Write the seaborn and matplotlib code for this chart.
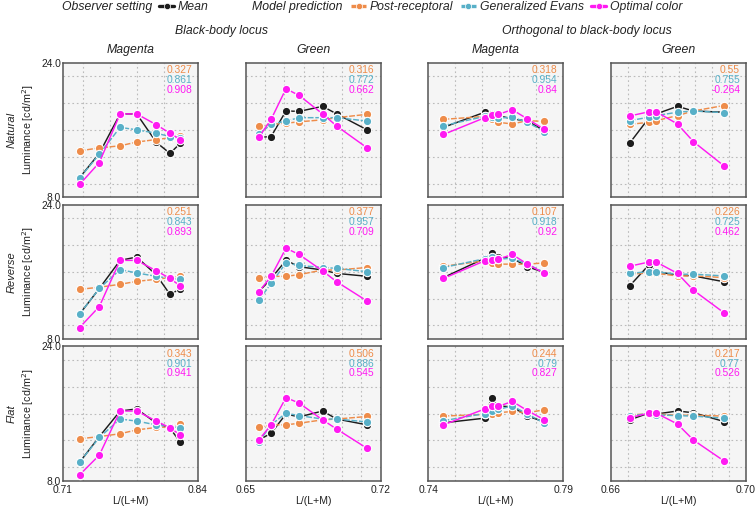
import matplotlib
matplotlib.use("Agg")
import matplotlib.pyplot as plt
import seaborn as sns
import pandas as pd
from matplotlib.lines import Line2D

# ---------------- data ----------------
SERIES = ["Mean", "Post-receptoral", "Generalized Evans", "Optimal color"]
SETTINGS = ["Natural", "Reverse", "Flat"]
PANELS = ["bb_mag", "bb_green", "orth_mag", "orth_green"]
PANEL_TITLES = ["Magenta", "Green", "Magenta", "Green"]
GROUP_TITLES = ["Black-body locus", "Orthogonal to black-body locus"]

X_BB_MAG = [0.726, 0.745, 0.765, 0.781, 0.800, 0.813, 0.823]
X_BB_GREEN = [0.6568, 0.6632, 0.6709, 0.6777, 0.6899, 0.6972, 0.7130]
X_ORTH_MAG = [0.7456, 0.7609, 0.7634, 0.7659, 0.7711, 0.7767, 0.7830]
X_ORTH_GREEN = [0.6655, 0.6712, 0.6734, 0.6797, 0.6844, 0.6935]

XLIMS = [(0.71, 0.84), (0.65, 0.72), (0.74, 0.79), (0.66, 0.70)]
XTICKLABELS = [("0.71", "0.84"), ("0.65", "0.72"), ("0.74", "0.79"), ("0.66", "0.70")]
YLIM = (8.0, 24.0)

# Natural
NAT_BBM_MEAN = [10.3, 13.2, 17.9, 17.9, 14.5, 13.2, 14.4]
NAT_BBM_POST = [13.5, 13.85, 14.1, 14.55, 14.85, 15.05, 15.3]
NAT_BBM_EVANS = [10.25, 13.1, 16.3, 16.0, 15.6, 15.2, 15.0]
NAT_BBM_OPT = [9.5, 12.1, 17.9, 17.9, 16.6, 15.6, 14.85]

NAT_BBG_MEAN = [15.1, 15.2, 18.25, 18.2, 18.8, 17.9, 16.0]
NAT_BBG_POST = [16.4, 16.65, 16.8, 16.95, 17.2, 17.45, 17.85]
NAT_BBG_EVANS = [15.5, 16.65, 17.05, 17.45, 17.45, 17.45, 17.05]
NAT_BBG_OPT = [15.1, 17.25, 20.9, 20.1, 17.9, 16.45, 13.85]

NAT_OM_MEAN = [16.3, 18.1, 17.9, 17.7, 17.3, 17.05, 15.9]
NAT_OM_POST = [17.25, 17.6, 17.3, 16.9, 16.7, 17.1, 17.0]
NAT_OM_EVANS = [16.5, 17.6, 17.5, 17.4, 17.5, 16.9, 15.8]
NAT_OM_OPT = [15.45, 17.45, 17.8, 17.85, 18.4, 17.3, 16.05]

NAT_OG_MEAN = [14.4, 17.4, 17.9, 18.8, 18.25, 18.1]
NAT_OG_POST = [16.65, 16.9, 17.1, 17.7, 18.25, 18.9]
NAT_OG_EVANS = [17.1, 17.5, 17.7, 18.1, 18.25, 18.05]
NAT_OG_OPT = [17.65, 18.15, 18.15, 16.7, 14.6, 11.7]

# Reverse
REV_BBM_MEAN = [10.95, 14.0, 17.35, 17.75, 15.6, 13.3, 13.95]
REV_BBM_POST = [13.9, 14.15, 14.5, 14.85, 15.1, 15.3, 15.5]
REV_BBM_EVANS = [10.95, 14.0, 16.25, 15.85, 15.45, 15.2, 15.1]
REV_BBM_OPT = [9.35, 11.85, 17.35, 17.35, 16.1, 15.2, 14.3]

REV_BBG_MEAN = [13.6, 15.2, 17.35, 16.6, 16.2, 15.8, 15.45]
REV_BBG_POST = [15.2, 15.45, 15.45, 15.65, 16.2, 16.2, 16.5]
REV_BBG_EVANS = [12.6, 14.6, 17.05, 16.75, 16.5, 16.4, 16.0]
REV_BBG_OPT = [13.6, 15.45, 18.8, 18.05, 16.1, 14.8, 12.5]

REV_OM_MEAN = [15.3, 17.6, 18.2, 17.7, 17.6, 16.6, 15.9]
REV_OM_POST = [16.65, 17.3, 17.0, 16.9, 16.9, 16.9, 17.05]
REV_OM_EVANS = [16.5, 17.55, 17.7, 17.5, 17.6, 16.9, 15.9]
REV_OM_OPT = [15.2, 17.3, 17.4, 17.5, 18.05, 16.9, 15.8]

REV_OG_MEAN = [14.3, 16.8, 16.0, 15.6, 15.5, 14.8]
REV_OG_POST = [15.7, 15.85, 15.8, 15.5, 15.5, 15.3]
REV_OG_EVANS = [15.8, 16.0, 16.0, 15.7, 15.7, 15.5]
REV_OG_OPT = [16.65, 17.15, 17.15, 15.8, 13.8, 11.1]

# Flat
FLAT_BBM_MEAN = [10.2, 13.25, 16.3, 16.55, 14.85, 14.25, 12.6]
FLAT_BBM_POST = [13.0, 13.25, 13.6, 14.05, 14.35, 14.4, 14.75]
FLAT_BBM_EVANS = [10.2, 13.15, 15.35, 15.1, 14.65, 14.45, 14.3]
FLAT_BBM_OPT = [8.7, 11.05, 16.3, 16.3, 15.1, 14.3, 13.45]

FLAT_BBG_MEAN = [12.85, 13.65, 15.95, 15.6, 16.3, 15.35, 14.65]
FLAT_BBG_POST = [14.35, 14.65, 14.65, 14.85, 15.25, 15.35, 15.65]
FLAT_BBG_EVANS = [12.6, 14.65, 16.05, 15.75, 15.35, 15.35, 15.0]
FLAT_BBG_OPT = [12.85, 14.65, 17.9, 17.25, 15.25, 14.15, 11.85]

FLAT_OM_MEAN = [14.9, 15.45, 17.85, 16.9, 16.8, 15.7, 15.0]
FLAT_OM_POST = [15.7, 15.9, 16.0, 16.1, 16.25, 16.1, 16.45]
FLAT_OM_EVANS = [15.15, 16.0, 16.3, 16.5, 16.9, 15.95, 14.85]
FLAT_OM_OPT = [14.65, 16.55, 16.85, 16.85, 17.45, 16.35, 15.25]

FLAT_OG_MEAN = [15.25, 16.05, 15.95, 16.3, 16.1, 15.05]
FLAT_OG_POST = [15.85, 15.95, 15.95, 15.8, 15.8, 15.7]
FLAT_OG_EVANS = [15.65, 16.05, 15.85, 15.75, 15.7, 15.45]
FLAT_OG_OPT = [15.5, 16.05, 16.05, 14.75, 12.85, 10.35]

# correlation annotations (post-receptoral, generalized Evans, optimal color)
NAT_R = [("0.327", "0.861", "0.908"), ("0.316", "0.772", "0.662"),
         ("0.318", "0.954", "0.84"), ("0.55", "0.755", "-0.264")]
REV_R = [("0.251", "0.843", "0.893"), ("0.377", "0.957", "0.709"),
         ("0.107", "0.918", "0.92"), ("0.226", "0.725", "0.462")]
FLAT_R = [("0.343", "0.901", "0.941"), ("0.506", "0.886", "0.545"),
          ("0.244", "0.79", "0.827"), ("0.217", "0.77", "0.526")]

# ---------------- assemble long table ----------------
XS = [X_BB_MAG, X_BB_GREEN, X_ORTH_MAG, X_ORTH_GREEN]
ROWDATA = {
    "Natural": [
        (NAT_BBM_MEAN, NAT_BBM_POST, NAT_BBM_EVANS, NAT_BBM_OPT),
        (NAT_BBG_MEAN, NAT_BBG_POST, NAT_BBG_EVANS, NAT_BBG_OPT),
        (NAT_OM_MEAN, NAT_OM_POST, NAT_OM_EVANS, NAT_OM_OPT),
        (NAT_OG_MEAN, NAT_OG_POST, NAT_OG_EVANS, NAT_OG_OPT)],
    "Reverse": [
        (REV_BBM_MEAN, REV_BBM_POST, REV_BBM_EVANS, REV_BBM_OPT),
        (REV_BBG_MEAN, REV_BBG_POST, REV_BBG_EVANS, REV_BBG_OPT),
        (REV_OM_MEAN, REV_OM_POST, REV_OM_EVANS, REV_OM_OPT),
        (REV_OG_MEAN, REV_OG_POST, REV_OG_EVANS, REV_OG_OPT)],
    "Flat": [
        (FLAT_BBM_MEAN, FLAT_BBM_POST, FLAT_BBM_EVANS, FLAT_BBM_OPT),
        (FLAT_BBG_MEAN, FLAT_BBG_POST, FLAT_BBG_EVANS, FLAT_BBG_OPT),
        (FLAT_OM_MEAN, FLAT_OM_POST, FLAT_OM_EVANS, FLAT_OM_OPT),
        (FLAT_OG_MEAN, FLAT_OG_POST, FLAT_OG_EVANS, FLAT_OG_OPT)],
}
RVALS = {"Natural": NAT_R, "Reverse": REV_R, "Flat": FLAT_R}

records = []
for setting in SETTINGS:
    for pi, panel in enumerate(PANELS):
        for sname, yvals in zip(SERIES, ROWDATA[setting][pi]):
            for xv, yv in zip(XS[pi], yvals):
                records.append(dict(setting=setting, panel=panel, series=sname, x=xv, y=yv))
df = pd.DataFrame(records)

# ---------------- style ----------------
sns.set_theme(style="white")
plt.rcParams["font.family"] = ["Liberation Sans", "DejaVu Sans"]

PALETTE = {"Mean": "#1c1c1c", "Post-receptoral": "#EE8C4A",
           "Generalized Evans": "#58B0C8", "Optimal color": "#FF1AF2"}
DASHES = {"Mean": "", "Post-receptoral": (4, 1.2),
          "Generalized Evans": (4, 1.2), "Optimal color": ""}
MARKERS = {s: "o" for s in SERIES}
RCOLORS = [PALETTE["Post-receptoral"], PALETTE["Generalized Evans"], PALETTE["Optimal color"]]

FS = 7.4      # ticks / numbers
FT = 8.8      # titles / legend
TXT = "#222222"

fig, axes = plt.subplots(3, 4, figsize=(7.56, 5.08), dpi=100)
fig.subplots_adjust(left=0.0833, right=0.9868, top=0.8766, bottom=0.0537,
                    wspace=0.353, hspace=0.056)

GRID_FR = [0.1, 0.3, 0.5, 0.7, 0.9]
XGRID = [
    [0.71 + 0.13 * f for f in (0.145, 0.345, 0.545, 0.745)],
    [0.66, 0.67, 0.68, 0.69, 0.70, 0.71],
    [0.75, 0.76, 0.77, 0.78],
    [0.665, 0.67, 0.675, 0.68, 0.685, 0.69, 0.695],
]

for ri, setting in enumerate(SETTINGS):
    for ci, panel in enumerate(PANELS):
        ax = axes[ri, ci]
        ax.set_facecolor("#F5F5F5")
        sub = df[(df.setting == setting) & (df.panel == panel)]
        sns.lineplot(data=sub, x="x", y="y", hue="series", style="series",
                     hue_order=SERIES, style_order=SERIES, palette=PALETTE,
                     dashes=DASHES, markers=MARKERS, markersize=6.0,
                     markeredgecolor="white", markeredgewidth=0.8,
                     linewidth=1.05, legend=False, ax=ax, zorder=3)
        ax.set_xlim(*XLIMS[ci])
        ax.set_ylim(*YLIM)
        ax.set_xticks(XGRID[ci], minor=True)
        ax.set_yticks([YLIM[0] + (YLIM[1] - YLIM[0]) * f for f in GRID_FR], minor=True)
        ax.grid(which="minor", color="#BBBBBB", linestyle=(0, (1.5, 2.5)), linewidth=0.8)
        ax.grid(which="major", visible=False)
        ax.tick_params(which="both", length=0)
        ax.set_xticks(list(XLIMS[ci]))
        ax.set_yticks(list(YLIM))
        if ri == 2:
            ax.set_xticklabels(XTICKLABELS[ci], fontsize=FS, color=TXT)
            ax.set_xlabel("L/(L+M)", fontsize=FS + 0.2, color=TXT)
            ax.xaxis.set_label_coords(0.5, -0.112)
        else:
            ax.set_xticklabels([])
            ax.set_xlabel("")
        if ci == 0:
            ylabs = ax.set_yticklabels(["8.0", "24.0"], fontsize=FS, color=TXT)
            ylabs[0].set_verticalalignment("center_baseline")
            ylabs[1].set_verticalalignment("center_baseline")
            ax.set_ylabel("Luminance [cd/m$^2$]", fontsize=FS + 0.3, color=TXT)
            ax.yaxis.set_label_coords(-0.2, 0.5)
        else:
            ax.set_yticklabels([])
            ax.set_ylabel("")
        ax.tick_params(axis="x", pad=3)
        ax.tick_params(axis="y", pad=1.5)
        for sp in ax.spines.values():
            sp.set_color("#555555")
            sp.set_linewidth(1.1)
        for k, (txt, col) in enumerate(zip(RVALS[setting][ci], RCOLORS)):
            ax.text(0.956, 0.982 - k * 0.073, txt, transform=ax.transAxes,
                    ha="right", va="top", fontsize=FS, color=col)
        if ri == 0:
            ax.set_title(PANEL_TITLES[ci], fontsize=FT, style="italic", pad=7, color=TXT)
    pos = axes[ri, 0].get_position()
    fig.text(12 / 756, (pos.y0 + pos.y1) / 2, setting, rotation=90, ha="center",
             va="center", fontsize=8.0, style="italic", color=TXT)

for gi, title in enumerate(GROUP_TITLES):
    p0 = axes[0, 2 * gi].get_position()
    p1 = axes[0, 2 * gi + 1].get_position()
    fig.text((p0.x0 + p1.x1) / 2, 1 - 31 / 508, title, ha="center", va="center",
             fontsize=FT, style="italic", color=TXT)

def handle(name):
    return Line2D([], [], color=PALETTE[name], marker="o", markersize=4.5,
                  markeredgecolor="white", markeredgewidth=0.5, linewidth=2.4,
                  linestyle="-" if DASHES[name] == "" else (0, (2, 1)))

LEG_Y = 1 - 7 / 508
fig.text(62 / 756, LEG_Y, "Observer setting", ha="left", va="center",
         fontsize=FT, style="italic", color=TXT)
fig.text(252 / 756, LEG_Y, "Model prediction", ha="left", va="center",
         fontsize=FT, style="italic", color=TXT)
fig.legend([handle("Mean")], ["Mean"], loc="center left",
           bbox_to_anchor=(159 / 756, LEG_Y), frameon=False,
           prop={"style": "italic", "size": FT}, handlelength=1.25,
           handletextpad=0.3, borderpad=0, borderaxespad=0)
fig.legend([handle(s) for s in SERIES[1:]], SERIES[1:], loc="center left",
           bbox_to_anchor=(351 / 756, LEG_Y), frameon=False, ncol=3,
           prop={"style": "italic", "size": FT}, handlelength=1.25,
           handletextpad=0.3, columnspacing=0.6, borderpad=0, borderaxespad=0)

fig.savefig("out.png", dpi=100)
